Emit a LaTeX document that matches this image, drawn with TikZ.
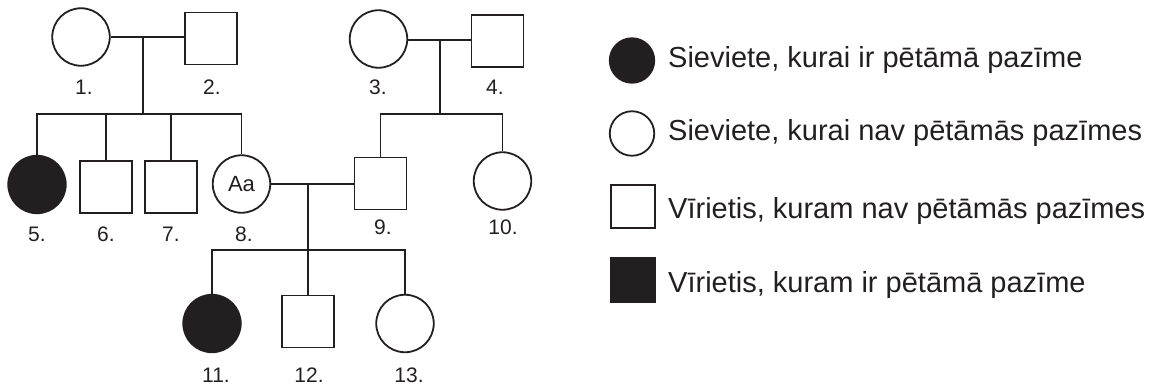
\documentclass[tikz,border=0pt]{standalone}
\usepackage{fontspec}
\setmainfont{Liberation Sans}
\definecolor{ink}{HTML}{231F20}
\begin{document}
\begin{tikzpicture}[x=1pt,y=-1pt,
  ink/.style={draw=ink,line width=1.8pt},
  fem/.style={ink,circle,minimum size=57.5pt,inner sep=0pt},
  mal/.style={ink,rectangle,minimum width=52pt,minimum height=52pt,inner sep=0pt},
  aff/.style={fill=ink},
  lab/.style={anchor=base,text=ink,font=\fontsize{21}{23}\selectfont,inner sep=0pt},
  lfem/.style={ink,circle,minimum size=44.5pt,inner sep=0pt},
  lmal/.style={ink,rectangle,minimum width=44.5pt,minimum height=43.5pt,inner sep=0pt},
  ltxt/.style={anchor=base west,text=ink,font=\fontsize{29}{32}\selectfont,inner sep=0pt},
  line/.style={draw=ink,line width=1.8pt}]
\useasboundingbox (0,0) rectangle (1154,385);
% generation I
\node[fem] (c1) at (81,37) {};
\node[mal] (s2) at (211,38.5) {};
\node[fem] (c3) at (378.5,39) {};
\node[mal] (s4) at (497.5,41) {};
% generation II
\node[fem,aff] (c5) at (37,184.5) {};
\node[mal] (s6) at (106,187) {};
\node[mal] (s7) at (171,187) {};
\node[fem,text=ink,font=\fontsize{22}{24}\selectfont] (c8) at (241.5,184) {Aa};
\node[mal] (s9) at (380.5,183.5) {};
\node[fem] (c10) at (502.5,181) {};
% generation III
\node[fem,aff] (c11) at (212,323.5) {};
\node[mal] (s12) at (308,321.5) {};
\node[fem] (c13) at (405,323.5) {};
% labels
\node[lab] (l1) at (84,95) {1.};
\node[lab] (l2) at (212,95) {2.};
\node[lab] (l3) at (378,95) {3.};
\node[lab] (l4) at (495,95) {4.};
\node[lab] (l5) at (37,241) {5.};
\node[lab] (l6) at (106,241) {6.};
\node[lab] (l7) at (171,241) {7.};
\node[lab] (l8) at (244,241) {8.};
\node[lab] (l9) at (383,234) {9.};
\node[lab] (l10) at (503,234) {10.};
\node[lab] (l11) at (216,382) {11.};
\node[lab] (l12) at (309,382) {12.};
\node[lab] (l13) at (409,382) {13.};
% couple and sibship coordinates
\coordinate (m12) at (143,37);
\coordinate (j12) at (143,114);
\coordinate (m34) at (440,40);
\coordinate (j34) at (440,114);
\coordinate (m89) at (308,184);
\coordinate (j89) at (308,250);
% connectors
\draw[line] (c1.east) -- (c1.east -| s2.west);
\draw[line] (m12) -- (j12);
\draw[line] (j12) -| (c5.north);
\draw[line] (j12) -| (s6.north);
\draw[line] (j12) -| (s7.north);
\draw[line] (j12) -| (c8.north);
\draw[line] (c3.east |- m34) -- (m34 -| s4.west);
\draw[line] (m34) -- (j34);
\draw[line] (j34) -| (s9.north);
\draw[line] (j34) -| (c10.north);
\draw[line] (c8.east) -- (c8.east -| s9.west);
\draw[line] (m89) -- (j89);
\draw[line] (j89) -| (c11.north);
\draw[line] (j89) -- (s12.north);
\draw[line] (j89) -| (c13.north);
% legend
\node[lfem,aff] (k1) at (632,60.5) {};
\node[lfem] (k2) at (632,133.5) {};
\node[lmal] (k3) at (633,206.5) {};
\node[lmal,aff] (k4) at (633,280) {};
\node[ltxt] (t1) at (668,67.5) {Sieviete, kurai ir pētāmā pazīme};
\node[ltxt] (t2) at (668,140.7) {Sieviete, kurai nav pētāmās pazīmes};
\node[ltxt] (t3) at (668,218) {Vīrietis, kuram nav pētāmās pazīmes};
\node[ltxt] (t4) at (668,292) {Vīrietis, kuram ir pētāmā pazīme};
\end{tikzpicture}
\end{document}
